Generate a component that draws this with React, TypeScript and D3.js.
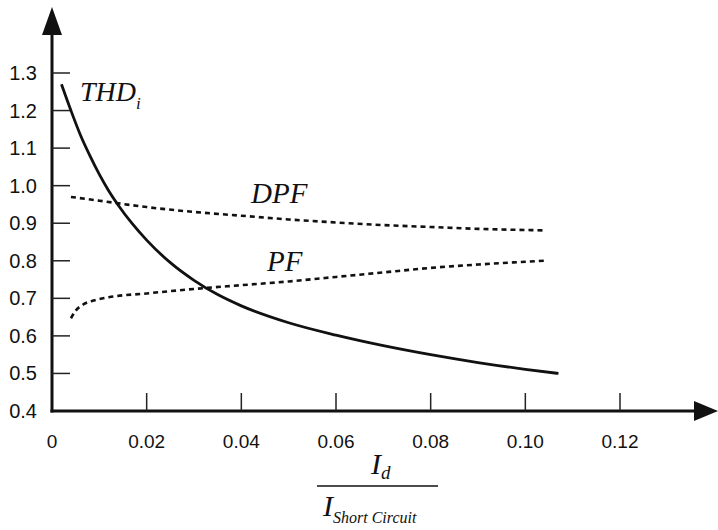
import React from "react";
import * as d3 from "d3";

// ratio Id / I short circuit
const thdX = [0.002, 0.004, 0.006, 0.008, 0.01, 0.012, 0.014, 0.017, 0.02, 0.025, 0.03, 0.035, 0.04, 0.05, 0.06, 0.07, 0.08, 0.09, 0.1, 0.107];
const thdY = [1.27, 1.2, 1.135, 1.08, 1.03, 0.986, 0.948, 0.898, 0.855, 0.795, 0.748, 0.71, 0.68, 0.635, 0.602, 0.574, 0.55, 0.529, 0.511, 0.5];

const dpfX = [0.004, 0.01, 0.02, 0.03, 0.04, 0.05, 0.06, 0.07, 0.08, 0.09, 0.104];
const dpfY = [0.97, 0.96, 0.943, 0.93, 0.92, 0.91, 0.902, 0.895, 0.89, 0.885, 0.881];

const pfX = [0.004, 0.005, 0.0065, 0.009, 0.012, 0.02, 0.03, 0.04, 0.05, 0.06, 0.07, 0.08, 0.09, 0.104];
const pfY = [0.647, 0.667, 0.683, 0.695, 0.703, 0.713, 0.725, 0.735, 0.745, 0.757, 0.769, 0.781, 0.79, 0.8];

const xTicks = [0, 0.02, 0.04, 0.06, 0.08, 0.1, 0.12];
const xTickLabels = ["0", "0.02", "0.04", "0.06", "0.08", "0.10", "0.12"];
const yTicks = [0.4, 0.5, 0.6, 0.7, 0.8, 0.9, 1.0, 1.1, 1.2, 1.3];

const W = 718, H = 530;
const x0 = 52, y0 = 411;

export default function App() {
  const x = d3.scaleLinear().domain([0, 0.12]).range([x0, 620]);
  const y = d3.scaleLinear().domain([0.4, 1.3]).range([y0, 73]);

  const line = d3
    .line<[number, number]>()
    .x((d) => x(d[0]))
    .y((d) => y(d[1]))
    .curve(d3.curveMonotoneX);

  const thd = line(thdX.map((v, i) => [v, thdY[i]] as [number, number])) || "";
  const dpf = line(dpfX.map((v, i) => [v, dpfY[i]] as [number, number])) || "";
  const pf = line(pfX.map((v, i) => [v, pfY[i]] as [number, number])) || "";

  const sans = "'Liberation Sans', Arial, sans-serif";
  const serif = "'Liberation Serif', 'Times New Roman', serif";

  return (
    <svg width={W} height={H} style={{ position: "absolute", left: 0, top: 0, background: "#fff" }}>
      {/* curves */}
      <path d={thd} fill="none" stroke="#111" strokeWidth={2.8} />
      <path d={dpf} fill="none" stroke="#111" strokeWidth={2.6} strokeDasharray="5 4" />
      <path d={pf} fill="none" stroke="#111" strokeWidth={2.6} strokeDasharray="5 4" />

      {/* y axis */}
      <line x1={x0} y1={y0 + 1.5} x2={x0} y2={30} stroke="#111" strokeWidth={3} />
      <polygon points={`${x0},7 ${x0 - 10},35 ${x0 + 10},35`} fill="#111" />
      {yTicks.map((t) => (
        <g key={t}>
          {t > 0.4 && <line x1={x0} x2={x0 + 18} y1={y(t)} y2={y(t)} stroke="#222" strokeWidth={1.5} />}
          <text x={37} y={y(t) + 7} textAnchor="end" fontFamily={sans} fontSize={20} fill="#111">
            {t.toFixed(1)}
          </text>
        </g>
      ))}

      {/* x axis */}
      <line x1={x0 - 1.5} y1={y0} x2={700} y2={y0} stroke="#111" strokeWidth={3} />
      <polygon points={`718,${y0} 694,${y0 - 10} 694,${y0 + 10}`} fill="#111" />
      {xTicks.map((t, i) => (
        <g key={t}>
          {t > 0 && <line x1={x(t)} x2={x(t)} y1={y0} y2={y0 - 18} stroke="#222" strokeWidth={1.5} />}
          <text x={x(t)} y={448} textAnchor="middle" fontFamily={sans} fontSize={19} fill="#111">
            {xTickLabels[i]}
          </text>
        </g>
      ))}

      {/* curve labels */}
      <text x={80} y={101} fontFamily={serif} fontStyle="italic" fontSize={28} fill="#111">
        THD<tspan fontSize={17} dy={8}>i</tspan>
      </text>
      <text x={251} y={203} fontFamily={serif} fontStyle="italic" fontSize={29} fill="#111">
        DPF
      </text>
      <text x={267} y={271} fontFamily={serif} fontStyle="italic" fontSize={29} fill="#111">
        PF
      </text>

      {/* x axis title as fraction */}
      <text x={371} y={474} fontFamily={serif} fontStyle="italic" fontSize={30} fill="#111">
        I<tspan fontSize={19} dy={5}>d</tspan>
      </text>
      <line x1={317} x2={438} y1={486} y2={486} stroke="#111" strokeWidth={1.5} />
      <text x={323} y={516} fontFamily={serif} fontStyle="italic" fontSize={30} fill="#111">
        I<tspan fontSize={16} dy={7}>Short Circuit</tspan>
      </text>
    </svg>
  );
}
